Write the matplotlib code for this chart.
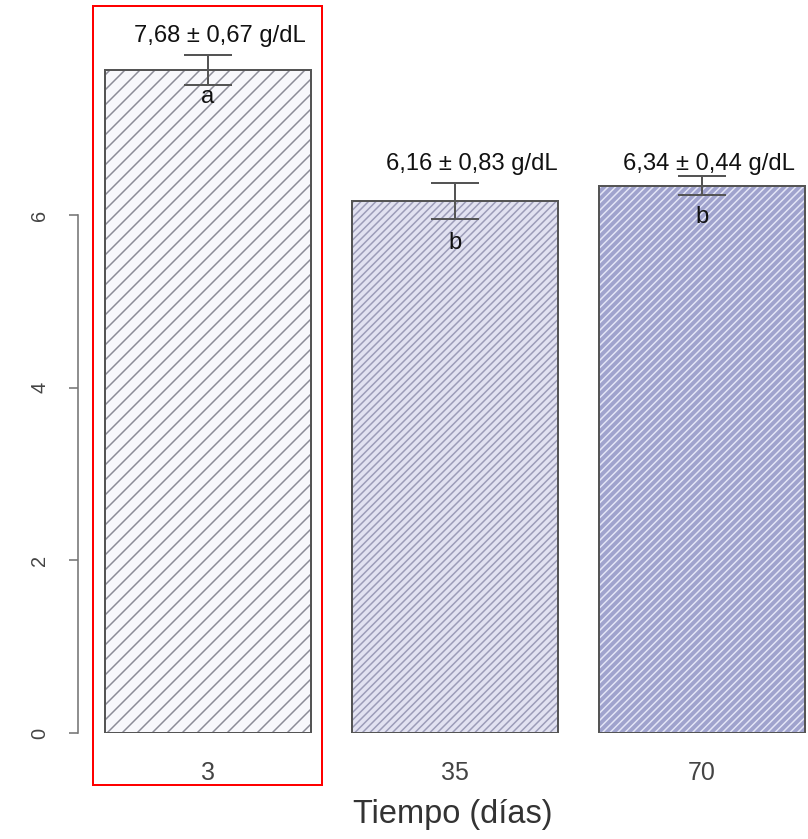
import matplotlib
matplotlib.use("Agg")
import matplotlib.pyplot as plt
from matplotlib.patches import Rectangle

plt.rcParams['font.family'] = ['Liberation Sans', 'DejaVu Sans']
plt.rcParams['hatch.linewidth'] = 1.2

# Data
days = ["3", "35", "70"]
means = [7.68, 6.16, 6.34]
sd = [0.67, 0.83, 0.44]
err_bars = [0.175, 0.21, 0.11]
groups = ["a", "b", "b"]
yticks = [0, 2, 4, 6]

# Styling per bar
fills = ["#f8f8fc", "#e2e2f1", "#a0a3cd"]
hatch_cols = ["#8c8c98", "#9c9cb8", "#e4e6f6"]
hatches = ["//", "////", "////"]
label_dx = [0.05, 0.07, 0.03]
label_dy = [0.22, 0.22, 0.14]
letter_dy = [-0.135, -0.27, -0.25]

DPI = 90
fig = plt.figure(figsize=(808 / DPI, 839 / DPI), dpi=DPI)
ax = fig.add_axes([78 / 808, 1 - 733 / 839, 730 / 808, 733 / 839])

x = list(range(len(days)))
width = 0.834
# hatched fill
for xi, m, fc, hc, h in zip(x, means, fills, hatch_cols, hatches):
    ax.bar(xi, m, width=width, color=fc, edgecolor=hc, hatch=h,
           linewidth=0, zorder=1)
# outline
ax.bar(x, means, width=width, fill=False, edgecolor="#555555",
       linewidth=1.6, zorder=2)

ax.errorbar(x, means, yerr=err_bars, fmt="none", ecolor="#555555",
            elinewidth=1.6, capsize=19, capthick=1.6, zorder=3)

for xi, m, s, e, g, dx, dy, ly in zip(x, means, sd, err_bars, groups,
                                      label_dx, label_dy, letter_dy):
    txt = f"{m:.2f} ± {s:.2f} g/dL".replace(".", ",")
    ax.text(xi + dx, m + e + dy, txt, ha="center", va="center",
            fontsize=19, color="#111111", zorder=4)
    ax.text(xi, m - e + ly, g, ha="center", va="center",
            fontsize=19, color="#111111", zorder=4)

ax.set_xlim(-0.526, 2.429)
ax.set_ylim(0, 733 / 86.33)

for side in ["top", "right", "bottom"]:
    ax.spines[side].set_visible(False)
ax.spines["left"].set_bounds(0, 6)
ax.spines["left"].set_color("#777777")
ax.spines["left"].set_linewidth(1.3)

ax.set_yticks(yticks)
ax.set_yticklabels([str(t) for t in yticks], rotation=90, va="center")
ax.tick_params(axis="y", length=7, width=1.3, color="#777777",
               labelsize=16, labelcolor="#444444", pad=16)

ax.set_xticks(x)
ax.set_xticklabels(days)
ax.tick_params(axis="x", length=0, labelsize=20, labelcolor="#444444", pad=22)

fig.text(453 / 808, 1 - 815 / 839, "Tiempo (días)", ha="center", va="center",
         fontsize=26, color="#333333")

# highlight box around the first group
fig.patches.append(Rectangle((93 / 808, 1 - 785 / 839), (322 - 93) / 808,
                             (785 - 6) / 839, transform=fig.transFigure,
                             fill=False, edgecolor="#ff0000", linewidth=1.6))

fig.savefig("out.png", dpi=DPI)
